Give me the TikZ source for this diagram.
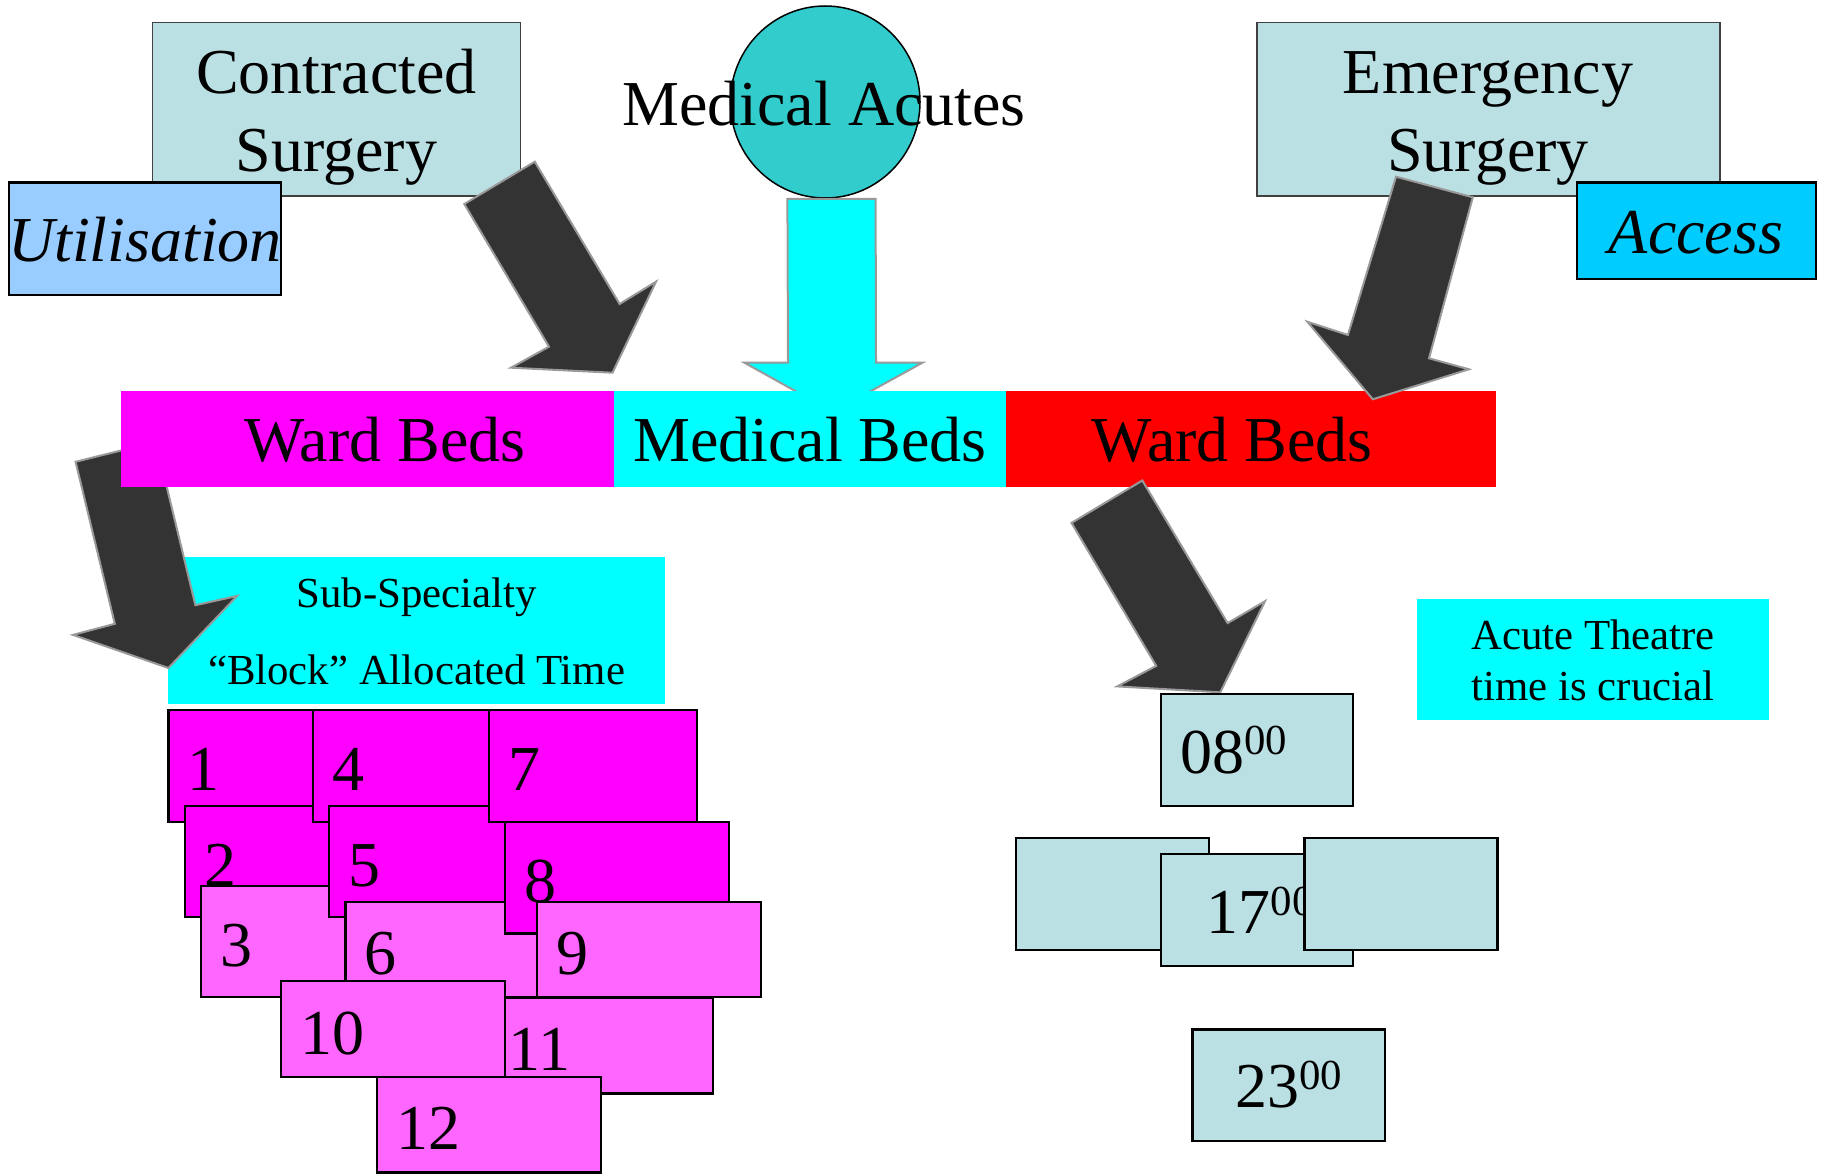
\documentclass[tikz,border=0pt]{standalone}
\usepackage{fontspec}
\setmainfont{Liberation Serif}
\usetikzlibrary{fit,shapes.geometric}

\definecolor{paleteal}{HTML}{BBE0E3}
\definecolor{skyblue}{HTML}{99CCFF}
\definecolor{accessblue}{HTML}{00CCFF}
\definecolor{tealdisc}{HTML}{33CCCC}
\definecolor{aqua}{HTML}{00FFFF}
\definecolor{mag}{HTML}{FF00FF}
\definecolor{lightmag}{HTML}{FF66FF}
\definecolor{arrowdark}{HTML}{333333}
\definecolor{arrowedge}{HTML}{999999}

% superscript minutes
\newcommand\hrs[1]{\raisebox{9.4pt}{\fontsize{21.4pt}{21.4pt}\selectfont #1}}

% numbered session block: name, x1, y1, x2, y2, fill, label
\newcommand\sessionblock[7]{%
  \node[slotbox, fill=#6, fit={(#2,#3) (#4,#5)}] (#1) {};
  \node[bigtext, anchor=base west] at (#2+19, {(#3+#5)/2+25}) {#7};
}

\begin{document}
\begin{tikzpicture}[x=0.5pt, y=-0.5pt,
  bigtext/.style={font=\fontsize{32pt}{38pt}\selectfont, inner sep=0pt, anchor=base},
  smalltext/.style={font=\fontsize{21.4pt}{25pt}\selectfont, inner sep=0pt, anchor=base},
  panel/.style={rectangle, inner sep=0pt, draw=black!75, line width=0.75pt, fill=paleteal},
  tagbox/.style={rectangle, inner sep=0pt, draw=black, line width=1.3pt},
  band/.style={rectangle, inner sep=0pt, draw=none},
  slotbox/.style={rectangle, inner sep=0pt, draw=black, line width=1.1pt},
  timebox/.style={rectangle, inner sep=0pt, draw=black, line width=1.1pt, fill=paleteal},
  blockarrow/.style={fill=arrowdark, draw=arrowedge, line width=1pt, line join=miter},
  cyanarrow/.style={fill=aqua, draw=arrowedge, line width=1pt, line join=miter}]

\useasboundingbox (0,0) rectangle (1824,1176);

% ---- sources ----
\node[panel, fit={(152.7,22.7) (520.5,196)}] (contracted) {};
\node[bigtext] at (336.5,93.3) {Contracted};
\node[bigtext] at (336.5,171.7) {Surgery};
\node[tagbox, fill=skyblue, fit={(8.9,182.7) (281,295)}] (util) {};
\node[bigtext] at (145,261.7) {\itshape Utilisation};

\node[panel, fit={(1257,22.7) (1720,196)}] (emergency) {};
\node[bigtext] at (1488,93.3) {Emergency};
\node[bigtext] at (1488,171.7) {Surgery};
\node[tagbox, fill=accessblue, fit={(1577,182.7) (1816,279)}] (access) {};
\node[bigtext] at (1696,253.3) {\itshape Access};

\node[ellipse, draw=black, line width=0.75pt, fill=tealdisc, inner sep=0pt,
      minimum width=94.8pt, minimum height=96pt] (acutes) at (825.2,102) {};
\node[bigtext] at (824,126) {Medical Acutes};

% medical inflow arrow
\draw[cyanarrow] (787.4,199) -- (875.6,199) -- (876,362.7) -- (922.4,362.7)
  -- (833,412) -- (744.4,362.7) -- (788,362.7) -- cycle;

% ---- sub-specialty label and its arrow ----
\node[band, fill=aqua, fit={(168.4,557.4) (664.8,704.3)}] (subspec) {};
\node[smalltext] at (416.5,607.4) {Sub-Specialty};
\node[smalltext] at (416.5,684.4) {``Block'' Allocated Time};

\draw[blockarrow] (75.6,461.8) -- (155.8,441.8) -- (195.4,605.2) -- (237.2,595.9)
  -- (168.4,668) -- (73,634.9) -- (114.8,623.8) -- cycle;

% ---- bed bands ----
\node[band, fill=mag, fit={(121,391) (614,486.7)}] (wardL) {};
\node[band, fill=aqua, fit={(614,391) (1006,486.7)}] (medbeds) {};
\node[band, fill=red, fit={(1006,391) (1496,486.7)}] (wardR) {};
\node[bigtext] at (385,461.7) {Ward Beds};
\node[bigtext] at (810,461.7) {Medical Beds};
\node[bigtext] at (1232.4,461.7) {Ward Beds};

% ---- block arrows ----
\draw[blockarrow] (534.8,161.7) -- (464.3,204) -- (549,346.7) -- (511,367.7)
  -- (612.5,372.7) -- (656,281.7) -- (619.6,304) -- cycle;
\draw[blockarrow] (1396,176.7) -- (1472.8,197.3) -- (1429,358.3) -- (1468.9,369.3)
  -- (1372.8,399.3) -- (1307.3,321.7) -- (1347.9,335) -- cycle;
\draw[blockarrow] (1142.3,480.5) -- (1071.5,522.9) -- (1156.2,665.9) -- (1117.2,686.4)
  -- (1220.3,692.3) -- (1265,601.2) -- (1227.6,623.1) -- cycle;

% ---- session blocks ----
\sessionblock{s1}{168.4}{710}{376.4}{821.6}{mag}{1}
\sessionblock{s2}{184.7}{805.7}{392.7}{917.2}{mag}{2}
\sessionblock{s3}{201}{885.8}{409}{996.8}{lightmag}{3}
\sessionblock{s4}{312.8}{710}{520.8}{821.6}{mag}{4}
\sessionblock{s5}{329}{805.7}{537}{917.2}{mag}{5}
\sessionblock{s6}{345.4}{901.7}{569.4}{997}{lightmag}{6}
\sessionblock{s7}{488.8}{710}{697}{821.6}{mag}{7}
\sessionblock{s8}{505}{821.6}{728.6}{933.5}{mag}{8}
\sessionblock{s9}{537}{901.7}{761}{996.8}{lightmag}{9}
\sessionblock{s11}{489}{998}{713}{1093.5}{lightmag}{11}
\sessionblock{s10}{281}{981.3}{505}{1077.3}{lightmag}{10}
\sessionblock{s12}{377}{1077.3}{601}{1172.5}{lightmag}{12}

% ---- acute theatre times ----
\node[timebox, fit={(1160.7,694.2) (1353,806.2)}] (t08) {};
\node[bigtext, anchor=base west] at (1180,773.4) {08\hrs{00}};

\node[timebox, fit={(1016.3,838) (1209.2,949.7)}] (t17a) {};
\node[timebox, fit={(1160.7,854) (1353,965.7)}] (t17) {};
\node[bigtext, anchor=base west] at (1206.5,933.8) {17\hrs{00}};
\node[timebox, fit={(1304.5,838) (1497.4,949.7)}] (t17b) {};

\node[timebox, fit={(1192.5,1029.5) (1385.3,1141)}] (t23) {};
\node[bigtext, anchor=base west] at (1235,1107.8) {23\hrs{00}};

\node[band, fill=aqua, fit={(1417,598.5) (1768.8,720)}] (crucial) {};
\node[smalltext] at (1593,649) {Acute Theatre};
\node[smalltext] at (1593,700) {time is crucial};

\end{tikzpicture}
\end{document}
